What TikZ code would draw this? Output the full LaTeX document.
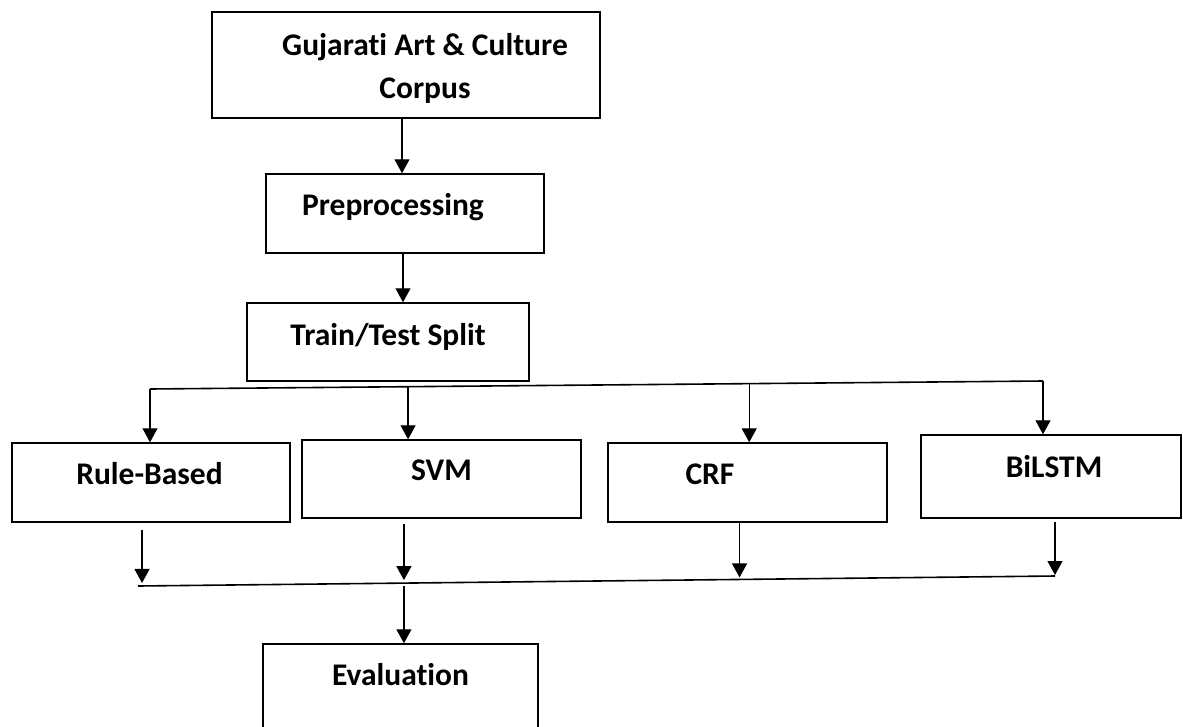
\documentclass[tikz,border=0pt]{standalone}
\usepackage{fontspec}
\setmainfont{Carlito}[Ligatures={TeX,NoCommon}]
\usetikzlibrary{arrows.meta,calc}

\begin{document}
\begin{tikzpicture}[x=1pt, y=-1pt,
  box/.style={draw, line width=1.5pt, inner sep=0pt},
  lbl/.style={font=\bfseries\fontsize{31.5}{43}\selectfont, inner sep=0pt, align=center},
  arr/.style={-{Triangle[width=15pt,length=14pt]}, line width=1.3pt},
  bus/.style={line width=1.6pt},
]
\useasboundingbox (0,0) rectangle (1183,726);

% pipeline boxes
\node[box, minimum width=388pt, minimum height=106pt,
  label={[lbl, xshift=19pt, yshift=-3pt]center:Gujarati Art \& Culture\\Corpus}] (corpus) at (406,65) {};
\node[box, minimum width=278pt, minimum height=79pt,
  label={[lbl, xshift=-12pt, yshift=6pt]center:Preprocessing}] (prep) at (405,213.5) {};
\node[box, minimum width=282pt, minimum height=78pt,
  label={[lbl, yshift=5pt]center:Train/Test Split}] (split) at (388,342) {};

% models
\node[box, minimum width=278pt, minimum height=79pt,
  label={[lbl, xshift=-1.5pt, yshift=8.5pt]center:Rule-Based}] (rule) at (151,482.5) {};
\node[box, minimum width=279pt, minimum height=78pt,
  label={[lbl, yshift=9pt]center:SVM}] (svm) at (441.5,479) {};
\node[box, minimum width=279pt, minimum height=79pt,
  label={[lbl, xshift=-37.5pt, yshift=8.5pt]center:CRF}] (crf) at (747.5,482.5) {};
\node[box, minimum width=260pt, minimum height=83pt,
  label={[lbl, xshift=3pt, yshift=10pt]center:BiLSTM}] (bilstm) at (1051,476.5) {};

\node[box, minimum width=275pt, minimum height=86pt,
  label={[lbl, yshift=12pt]center:Evaluation}] (eval) at (400.5,687) {};

\draw[arr] ([xshift=-4pt]corpus.south) -- ([xshift=-3pt]prep.north);
\draw[arr] ([xshift=-2pt]prep.south) -- ([xshift=-2pt]prep.south |- split.north);

% fork to the models
\coordinate (forkL) at (150,389);
\coordinate (forkR) at (1043,381);
\coordinate (fsvm) at ($(forkL)!0.289!(forkR)$);
\coordinate (fcrf) at ($(forkL)!0.671!(forkR)$);
\draw[bus] (forkL) -- (forkR);
\draw[arr] (forkL) -- (forkL |- rule.north);
\draw[arr] (fsvm) -- (fsvm |- svm.north);
\draw[arr] (fcrf) -- (fcrf |- crf.north);
\draw[arr] (forkR) -- (forkR |- bilstm.north);

% join to evaluation
\coordinate (joinL) at (138,586);
\coordinate (joinR) at (1055,576);
\coordinate (jrule) at ($(joinL)!0.0044!(joinR)$);
\coordinate (jsvm) at ($(joinL)!0.29!(joinR)$);
\coordinate (jcrf) at ($(joinL)!0.656!(joinR)$);
\draw[bus] (joinL) -- (joinR);
\draw[arr, shorten <=7pt, shorten >=3pt] (jrule |- rule.south) -- (jrule);
\draw[arr, shorten <=5pt, shorten >=3pt] (jsvm |- svm.south) -- (jsvm);
\draw[arr, shorten >=2pt] (jcrf |- crf.south) -- (jcrf);
\draw[arr, shorten <=3pt, shorten >=1pt] (joinR |- bilstm.south) -- (joinR);
\draw[arr, shorten <=3pt] (jsvm) -- (jsvm |- eval.north);
\end{tikzpicture}
\end{document}
